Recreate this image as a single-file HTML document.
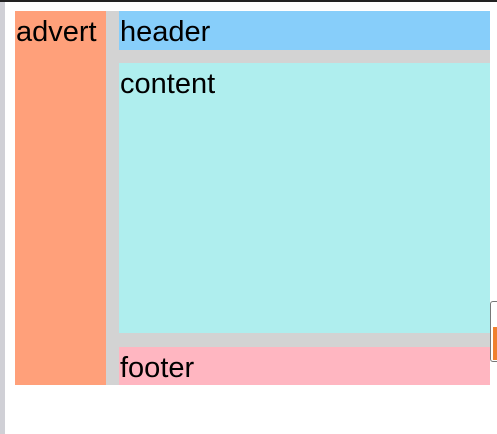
<!DOCTYPE html>
<html><head><style>
html,body{margin:0;padding:0;width:497px;height:434px;overflow:hidden;background:#fff;position:relative;font-family:"Liberation Sans","DejaVu Sans",sans-serif;}
div{position:absolute;box-sizing:border-box;}
.t{font-size:29px;line-height:1;color:#000;padding:7px 0 0 1px;white-space:nowrap;}
</style></head><body>
<div style="left:0;top:0;width:497px;height:2px;background:#222"></div>
<div style="left:0;top:2px;width:5px;height:432px;background:#d0d0d6"></div>
<div style="left:106px;top:11px;width:384px;height:374px;background:#d3d3d3"></div>
<div class="t" style="left:15px;top:11px;width:91px;height:374px;background:#ffa07a">advert</div>
<div class="t" style="left:119px;top:11px;width:371px;height:39px;background:#87cefa">header</div>
<div class="t" style="left:119px;top:63px;width:371px;height:270px;background:#afeeee">content</div>
<div class="t" style="left:119px;top:347px;width:371px;height:38px;background:#ffb6c1">footer</div>
<div style="left:490px;top:301px;width:10px;height:61px;border:1px solid #777;border-radius:3px;background:#fff"></div>
<div style="left:493px;top:327px;width:4px;height:33px;background:#f08030"></div>
</body></html>
